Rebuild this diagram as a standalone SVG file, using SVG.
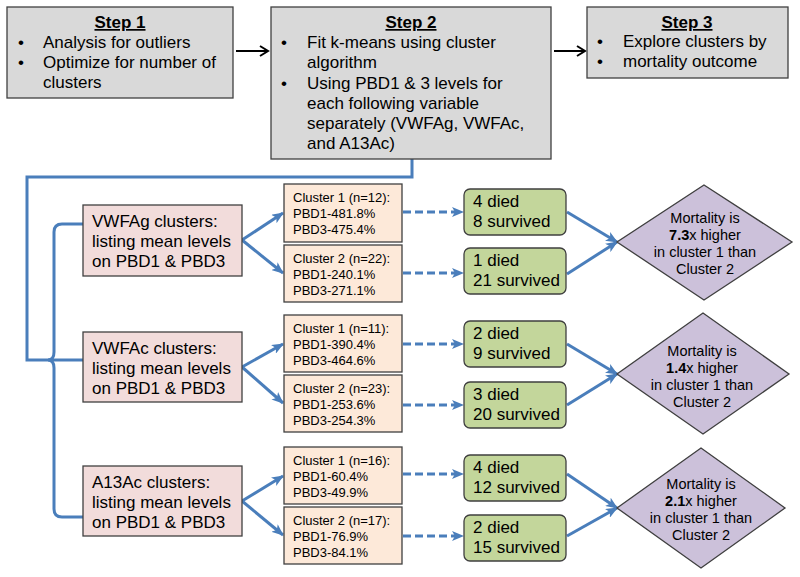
<svg xmlns="http://www.w3.org/2000/svg" width="800" height="577" viewBox="0 0 800 577">
<style>
text{font-family:"Liberation Sans",Arial,sans-serif;fill:#000}
.step{fill:#d9d9d9;stroke:#404040;stroke-width:1.3}
.pink{fill:#f2dcdb;stroke:#404040;stroke-width:1.3}
.orange{fill:#fde9d9;stroke:#404040;stroke-width:1.3}
.green{fill:#c3d69b;stroke:#3f3f3f;stroke-width:1.3}
.dia{fill:#ccc1da;stroke:#3f3f3f;stroke-width:1.3}
.t17{font-size:17px}
.t13{font-size:13px}
.t14{font-size:14.5px}
.title{font-size:17px;font-weight:bold;text-decoration:underline}
.blue{stroke:#4a7ebb;stroke-width:3;fill:none}
.dash{stroke:#4a7ebb;stroke-width:3;fill:none;stroke-dasharray:8 4}
.black{stroke:#000;stroke-width:2;fill:none}
</style>
<defs>
<marker id="ab" markerUnits="userSpaceOnUse" markerWidth="12" markerHeight="10" refX="11" refY="5" orient="auto">
<path d="M0,0 L12,5 L0,10 L3,5 z" fill="#4a7ebb"/>
</marker>
<marker id="ak" markerUnits="userSpaceOnUse" markerWidth="12" markerHeight="12" refX="10" refY="6" orient="auto">
<path d="M2,1 L10,6 L2,11" fill="none" stroke="#000" stroke-width="2"/>
</marker>
</defs>

<g id="connectors">
<line class="black" x1="236" y1="51" x2="268" y2="51" marker-end="url(#ak)"/>
<line class="black" x1="554" y1="51" x2="585" y2="51" marker-end="url(#ak)"/>
<path class="blue" d="M412,159 V177 H27 V360 H50"/>
<path class="blue" d="M83,224 H62 Q54,224 54,232 V352 Q54,360 48,360 Q54,360 54,368 V509 Q54,517 62,517 H83"/>
<line class="blue" x1="50" y1="360" x2="83" y2="360"/>
<line class="blue" x1="242" y1="240" x2="283" y2="213" marker-end="url(#ab)"/>
<line class="blue" x1="242" y1="240" x2="283" y2="273" marker-end="url(#ab)"/>
<line class="blue" x1="242" y1="367" x2="283" y2="344" marker-end="url(#ab)"/>
<line class="blue" x1="242" y1="367" x2="283" y2="403" marker-end="url(#ab)"/>
<line class="blue" x1="242" y1="501" x2="283" y2="476" marker-end="url(#ab)"/>
<line class="blue" x1="242" y1="501" x2="283" y2="535" marker-end="url(#ab)"/>
<line class="dash" x1="403" y1="212" x2="463" y2="212" marker-end="url(#ab)"/>
<line class="dash" x1="403" y1="273" x2="463" y2="273" marker-end="url(#ab)"/>
<line class="dash" x1="403" y1="344" x2="463" y2="344" marker-end="url(#ab)"/>
<line class="dash" x1="403" y1="405" x2="463" y2="405" marker-end="url(#ab)"/>
<line class="dash" x1="403" y1="474" x2="463" y2="474" marker-end="url(#ab)"/>
<line class="dash" x1="403" y1="536" x2="463" y2="536" marker-end="url(#ab)"/>
<line class="blue" x1="567" y1="212" x2="617" y2="242" marker-end="url(#ab)"/>
<line class="blue" x1="567" y1="274" x2="617" y2="242" marker-end="url(#ab)"/>
<line class="blue" x1="567" y1="344" x2="617" y2="374" marker-end="url(#ab)"/>
<line class="blue" x1="567" y1="405" x2="617" y2="374" marker-end="url(#ab)"/>
<line class="blue" x1="567" y1="474" x2="617" y2="508" marker-end="url(#ab)"/>
<line class="blue" x1="567" y1="536" x2="617" y2="508" marker-end="url(#ab)"/>
</g>

<g id="step1">
<rect class="step" x="7" y="7" width="226" height="91"/>
<text class="title" x="120" y="28" text-anchor="middle">Step 1</text>
<text class="t17" x="18" y="48">•</text><text class="t17" x="43" y="48">Analysis for outliers</text>
<text class="t17" x="18" y="68">•</text><text class="t17" x="43" y="68">Optimize for number of</text>
<text class="t17" x="43" y="88">clusters</text>
</g>

<g id="step2">
<rect class="step" x="271" y="7" width="280" height="152"/>
<text class="title" x="411" y="28" text-anchor="middle">Step 2</text>
<text class="t17" x="281" y="48">•</text><text class="t17" x="307" y="48">Fit k-means using cluster</text>
<text class="t17" x="307" y="68">algorithm</text>
<text class="t17" x="281" y="89">•</text><text class="t17" x="307" y="89">Using PBD1 &amp; 3 levels for</text>
<text class="t17" x="307" y="109">each following variable</text>
<text class="t17" x="307" y="129">separately (VWFAg, VWFAc,</text>
<text class="t17" x="307" y="149">and A13Ac)</text>
</g>

<g id="step3">
<rect class="step" x="587" y="7" width="201" height="71"/>
<text class="title" x="687" y="28" text-anchor="middle">Step 3</text>
<text class="t17" x="597" y="47">•</text><text class="t17" x="623" y="47">Explore clusters by</text>
<text class="t17" x="597" y="67">•</text><text class="t17" x="623" y="67">mortality outcome</text>
</g>

<g id="vwfag">
<rect class="pink" x="83" y="205" width="159" height="71"/>
<text class="t17" x="92" y="227">VWFAg clusters:</text>
<text class="t17" x="92" y="247">listing mean levels</text>
<text class="t17" x="92" y="267">on PBD1 &amp; PBD3</text>
</g>
<g id="vwfac">
<rect class="pink" x="83" y="332" width="159" height="70"/>
<text class="t17" x="92" y="354">VWFAc clusters:</text>
<text class="t17" x="92" y="374">listing mean levels</text>
<text class="t17" x="92" y="394">on PBD1 &amp; PBD3</text>
</g>
<g id="a13ac">
<rect class="pink" x="83" y="466" width="159" height="70"/>
<text class="t17" x="92" y="488">A13Ac clusters:</text>
<text class="t17" x="92" y="508">listing mean levels</text>
<text class="t17" x="92" y="528">on PBD1 &amp; PBD3</text>
</g>

<g id="vwfag_c1">
<rect class="orange" x="284" y="184" width="118" height="58"/>
<text class="t13" x="293" y="202">Cluster 1 (n=12):</text>
<text class="t13" x="293" y="218">PBD1-481.8%</text>
<text class="t13" x="293" y="234">PBD3-475.4%</text>
</g>
<g id="vwfag_c2">
<rect class="orange" x="284" y="245" width="118" height="57"/>
<text class="t13" x="293" y="263">Cluster 2 (n=22):</text>
<text class="t13" x="293" y="279">PBD1-240.1%</text>
<text class="t13" x="293" y="295">PBD3-271.1%</text>
</g>
<g id="vwfac_c1">
<rect class="orange" x="284" y="315" width="118" height="57"/>
<text class="t13" x="293" y="333">Cluster 1 (n=11):</text>
<text class="t13" x="293" y="349">PBD1-390.4%</text>
<text class="t13" x="293" y="365">PBD3-464.6%</text>
</g>
<g id="vwfac_c2">
<rect class="orange" x="284" y="375" width="118" height="57"/>
<text class="t13" x="293" y="393">Cluster 2 (n=23):</text>
<text class="t13" x="293" y="409">PBD1-253.6%</text>
<text class="t13" x="293" y="425">PBD3-254.3%</text>
</g>
<g id="a13ac_c1">
<rect class="orange" x="284" y="447" width="118" height="57"/>
<text class="t13" x="293" y="465">Cluster 1 (n=16):</text>
<text class="t13" x="293" y="481">PBD1-60.4%</text>
<text class="t13" x="293" y="497">PBD3-49.9%</text>
</g>
<g id="a13ac_c2">
<rect class="orange" x="284" y="507" width="118" height="57"/>
<text class="t13" x="293" y="525">Cluster 2 (n=17):</text>
<text class="t13" x="293" y="541">PBD1-76.9%</text>
<text class="t13" x="293" y="557">PBD3-84.1%</text>
</g>

<g id="out1">
<rect class="green" x="464" y="189" width="102" height="46" rx="6"/>
<text class="t17" x="473" y="207">4 died</text>
<text class="t17" x="473" y="227">8 survived</text>
</g>
<g id="out2">
<rect class="green" x="464" y="248" width="102" height="46" rx="6"/>
<text class="t17" x="473" y="266">1 died</text>
<text class="t17" x="473" y="286">21 survived</text>
</g>
<g id="out3">
<rect class="green" x="464" y="321" width="102" height="46" rx="6"/>
<text class="t17" x="473" y="339">2 died</text>
<text class="t17" x="473" y="359">9 survived</text>
</g>
<g id="out4">
<rect class="green" x="464" y="382" width="102" height="46" rx="6"/>
<text class="t17" x="473" y="400">3 died</text>
<text class="t17" x="473" y="420">20 survived</text>
</g>
<g id="out5">
<rect class="green" x="464" y="455" width="102" height="46" rx="6"/>
<text class="t17" x="473" y="473">4 died</text>
<text class="t17" x="473" y="493">12 survived</text>
</g>
<g id="out6">
<rect class="green" x="464" y="515" width="102" height="46" rx="6"/>
<text class="t17" x="473" y="533">2 died</text>
<text class="t17" x="473" y="553">15 survived</text>
</g>

<g id="mort1">
<polygon class="dia" points="704,185 792,242 704,300 617,242"/>
<text class="t14" text-anchor="middle" x="705" y="223">Mortality is</text>
<text class="t14" text-anchor="middle" x="705" y="240"><tspan font-weight="bold">7.3</tspan>x higher</text>
<text class="t14" text-anchor="middle" x="705" y="257">in cluster 1 than</text>
<text class="t14" text-anchor="middle" x="705" y="274">Cluster 2</text>
</g>
<g id="mort2">
<polygon class="dia" points="703,313 789,374 703,434 617,374"/>
<text class="t14" text-anchor="middle" x="702" y="356">Mortality is</text>
<text class="t14" text-anchor="middle" x="702" y="373"><tspan font-weight="bold">1.4</tspan>x higher</text>
<text class="t14" text-anchor="middle" x="702" y="390">in cluster 1 than</text>
<text class="t14" text-anchor="middle" x="702" y="407">Cluster 2</text>
</g>
<g id="mort3">
<polygon class="dia" points="701,448 785,508 701,568 617,508"/>
<text class="t14" text-anchor="middle" x="701" y="489">Mortality is</text>
<text class="t14" text-anchor="middle" x="701" y="506"><tspan font-weight="bold">2.1</tspan>x higher</text>
<text class="t14" text-anchor="middle" x="701" y="523">in cluster 1 than</text>
<text class="t14" text-anchor="middle" x="701" y="540">Cluster 2</text>
</g>
</svg>
